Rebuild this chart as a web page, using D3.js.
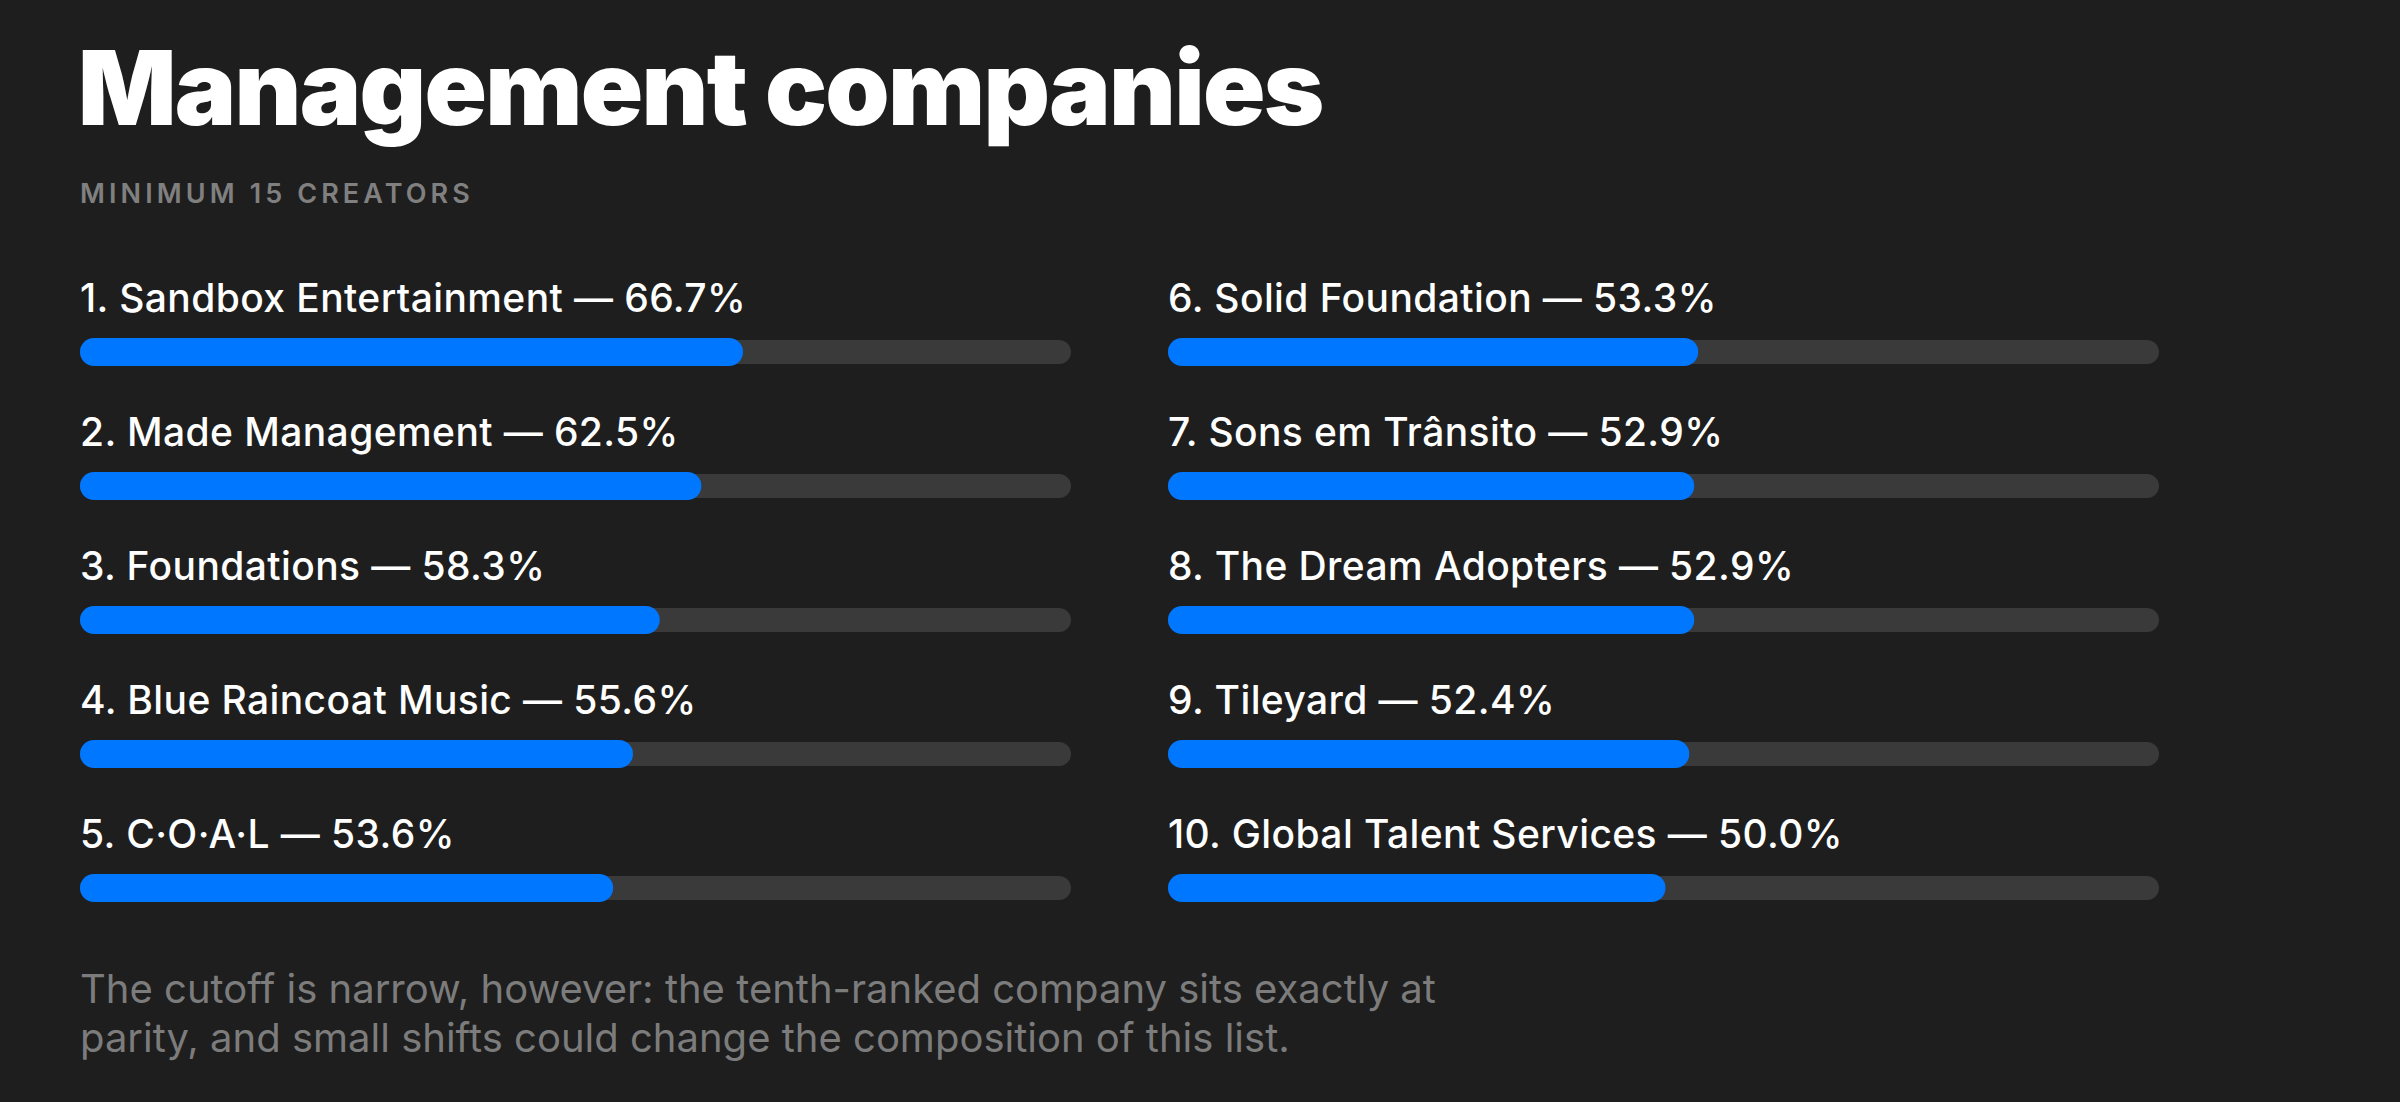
<!DOCTYPE html>
<html>
<head>
<meta charset="utf-8">
<script src="https://cdn.jsdelivr.net/npm/d3@7"></script>
<style>
  html, body { margin: 0; padding: 0; background: #1e1e1e; }
  svg { display: block; }
</style>
</head>
<body>
<svg id="chart"></svg>
<script>
const companies = [
  "Sandbox Entertainment", "Made Management", "Foundations", "Blue Raincoat Music", "C·O·A·L",
  "Solid Foundation", "Sons em Trânsito", "The Dream Adopters", "Tileyard", "Global Talent Services"
];
const shares = [66.7, 62.5, 58.3, 55.6, 53.6, 53.3, 52.9, 52.9, 52.4, 50.0];
const titleText = "Management companies";
const subtitleText = "MINIMUM 15 CREATORS";
const noteLines = [
  "The cutoff is narrow, however: the tenth-ranked company sits exactly at",
  "parity, and small shifts could change the composition of this list."
];

const width = 2400, height = 1102;
const svg = d3.select("#chart").attr("width", width).attr("height", height);

svg.append("rect").attr("width", width).attr("height", height).attr("fill", "#1e1e1e");

const left = 80;
const colWidth = 991;
const perCol = 5;

// title + subtitle
svg.append("text")
   .attr("x", left - 2)
   .attr("y", 125)
   .attr("fill", "#ffffff")
   .attr("font-family", "Inter, sans-serif")
   .attr("font-weight", 900)
   .attr("font-size", 103)
   .attr("letter-spacing", -1.7)
   .text(titleText);

svg.append("text")
   .attr("x", left)
   .attr("y", 203)
   .attr("fill", "#808080")
   .attr("font-family", "Inter, sans-serif")
   .attr("font-weight", 600)
   .attr("font-size", 27)
   .attr("letter-spacing", 4.1)
   .text(subtitleText);

const data = companies.map((name, i) => ({ rank: i + 1, name, value: shares[i] }));

const colX = d3.scalePoint().domain([0, 1]).range([left, 1168]);
const rowY = d3.scalePoint().domain(d3.range(perCol)).range([312, 848]);
const x = d3.scaleLinear().domain([0, 100]).range([0, colWidth]);

const rows = svg.selectAll("g.row")
   .data(data)
   .enter()
   .append("g")
   .attr("class", "row")
   .attr("transform", d => `translate(${colX(Math.floor((d.rank - 1) / perCol))},${rowY((d.rank - 1) % perCol)})`);

rows.append("text")
   .attr("x", 0)
   .attr("y", 0)
   .attr("fill", "#ffffff")
   .attr("font-family", "Inter, sans-serif")
   .attr("font-weight", 500)
   .attr("font-size", 39)
   .attr("letter-spacing", 0.4)
   .text(d => `${d.rank}. ${d.name} — ${d.value.toFixed(1)}%`);

// track
rows.append("rect")
   .attr("x", 0)
   .attr("y", 28)
   .attr("width", colWidth)
   .attr("height", 24)
   .attr("rx", 12)
   .attr("fill", "#3a3a3a");

// value bar
rows.append("rect")
   .attr("x", 0)
   .attr("y", 26)
   .attr("width", d => x(d.value) + 2)
   .attr("height", 28)
   .attr("rx", 14)
   .attr("fill", "#0077ff");

// note
svg.append("text")
   .attr("fill", "#7c7c7c")
   .attr("font-family", "Inter, sans-serif")
   .attr("font-weight", 400)
   .attr("font-size", 40)
   .selectAll("tspan")
   .data(noteLines)
   .enter()
   .append("tspan")
   .attr("x", left)
   .attr("y", (d, i) => 1003 + i * 49)
   .text(d => d);
</script>
</body>
</html>
